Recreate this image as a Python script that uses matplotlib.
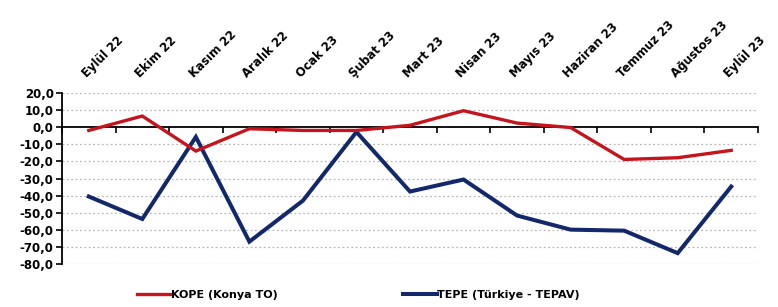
import matplotlib
matplotlib.use("Agg")
import matplotlib.pyplot as plt
from matplotlib.ticker import FuncFormatter

categories = ["Eylül 22", "Ekim 22", "Kasım 22", "Aralık 22", "Ocak 23", "Şubat 23",
              "Mart 23", "Nisan 23", "Mayıs 23", "Haziran 23", "Temmuz 23", "Ağustos 23", "Eylül 23"]
kope = [-2.0, 6.4, -14.0, -1.0, -2.0, -2.0, 1.0, 9.5, 2.3, -0.3, -18.9, -17.9, -13.6]
tepe = [-40.5, -53.6, -5.8, -66.8, -42.9, -2.9, -37.6, -30.6, -51.6, -59.8, -60.4, -73.5, -34.7]
yticks = [20, 10, 0, -10, -20, -30, -40, -50, -60, -70, -80]

plt.rcParams['font.family'] = ['DejaVu Sans']
fig = plt.figure(figsize=(7.78, 3.07), dpi=100)
ax = fig.add_axes([62/778, 1-264.3/307, (758-62)/778, (264.3-92.7)/307])

x = list(range(len(categories)))
ax.plot(x, kope, color='#C4141C', lw=2.4, label='KOPE (Konya TO)', solid_joinstyle='miter', zorder=4)
ax.plot(x, tepe, color='#13286A', lw=2.9, label='TEPE (Türkiye - TEPAV)', solid_joinstyle='miter', zorder=3)

ax.set_xlim(-0.5, len(categories) - 0.5)
ax.set_ylim(-80, 20)
ax.set_yticks(yticks)
ax.yaxis.set_major_formatter(FuncFormatter(lambda v, p: f"{v:.1f}".replace('.', ',')))
for t in ax.get_yticklabels():
    t.set_fontweight('bold')
ax.tick_params(axis='y', labelsize=8.5, length=4, width=1.2, color='black', pad=2)

for v in yticks:
    if v != 0:
        ax.axhline(v, color='#B8B8B8', lw=0.9, ls=(0, (1.5, 2.0)), zorder=1)

ax.spines['top'].set_visible(False)
ax.spines['right'].set_visible(False)
ax.spines['left'].set_linewidth(1.3)
ax.spines['bottom'].set_position(('data', 0))
ax.spines['bottom'].set_linewidth(1.3)
ax.set_xticks([i + 0.5 for i in range(-1, len(categories))])
ax.tick_params(axis='x', length=4, width=1.2, direction='out', labelbottom=False)

for i, c in enumerate(categories):
    ax.text(i, 1.075, c, transform=ax.get_xaxis_transform(), rotation=45, rotation_mode='anchor',
            ha='left', va='bottom', fontsize=8.5, fontweight='bold')

leg = fig.legend(*ax.get_legend_handles_labels(), loc='center left',
                 bbox_to_anchor=(137/778, 1 - 295/307), ncol=2, frameon=False,
                 borderpad=0, borderaxespad=0,
                 handlelength=3.0, handletextpad=0.05, columnspacing=11.3,
                 prop={'weight': 'bold', 'size': 8})

fig.savefig('out.png', dpi=100)
